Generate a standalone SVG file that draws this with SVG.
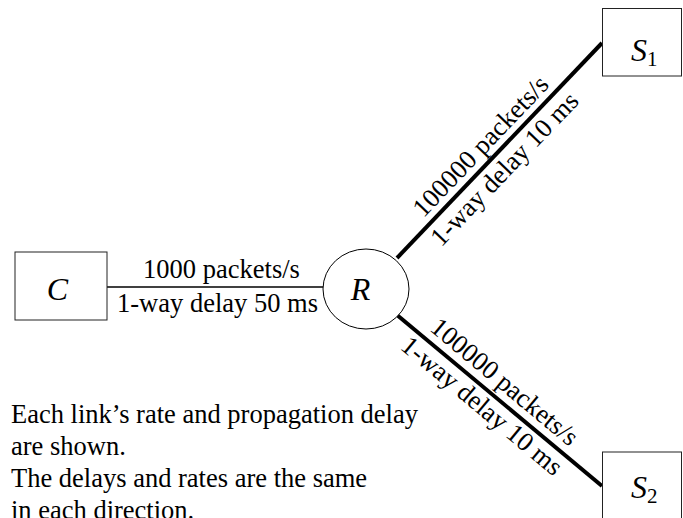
<svg xmlns="http://www.w3.org/2000/svg" width="683" height="518" viewBox="0 0 683 518">
<style>
  text { font-family: "Liberation Serif", "Times New Roman", serif; fill: #000; }
  .lbl { font-size: 26.5px; }
  .node { font-size: 32px; font-style: italic; }
  .sub { font-size: 21px; font-style: normal; }
  .box { fill: #fff; stroke: #222; stroke-width: 1; }
  .thin { stroke: #000; stroke-width: 1.6; fill: none; }
  .thick { stroke: #000; stroke-width: 4; fill: none; }
</style>
<rect width="683" height="518" fill="#fff"/>
<g id="connectors">
  <line class="thin" x1="107" y1="287" x2="323" y2="287"/>
  <line class="thick" x1="397" y1="258" x2="602" y2="43"/>
  <line class="thick" x1="397" y1="315" x2="602" y2="486"/>
</g>
<g id="link-labels">
  <text class="lbl" x="221.5" y="278" text-anchor="middle">1000 packets/s</text>
  <text class="lbl" x="217.5" y="312" text-anchor="middle">1-way delay 50 ms</text>
  <g transform="translate(499.5,150.5) rotate(-46.36)">
    <text class="lbl" x="-10" y="-8" text-anchor="middle">100000 packets/s</text>
    <text class="lbl" x="-10" y="25" text-anchor="middle">1-way delay 10 ms</text>
  </g>
  <g transform="translate(499.5,400.5) rotate(39.83)">
    <text class="lbl" x="-8" y="-9" text-anchor="middle">100000 packets/s</text>
    <text class="lbl" x="-10" y="24" text-anchor="middle">1-way delay 10 ms</text>
  </g>
</g>
<g id="node-C">
  <rect class="box" x="15" y="252" width="92" height="68"/>
  <text class="node" x="57.5" y="300" text-anchor="middle">C</text>
</g>
<g id="node-R">
  <ellipse cx="366" cy="289" rx="43" ry="40" fill="#fff" stroke="#000" stroke-width="1"/>
  <text class="node" x="360.5" y="300" text-anchor="middle">R</text>
</g>
<g id="node-S1">
  <rect class="box" x="602.5" y="8.5" width="79" height="67.5"/>
  <text class="node" x="631" y="61">S<tspan class="sub" y="66">1</tspan></text>
</g>
<g id="node-S2">
  <rect class="box" x="602.5" y="452" width="79" height="70"/>
  <text class="node" x="631" y="498">S<tspan class="sub" y="503">2</tspan></text>
</g>
<g id="note">
  <text class="lbl" x="11" y="423">Each link’s rate and propagation delay</text>
  <text class="lbl" x="11" y="455">are shown.</text>
  <text class="lbl" x="11" y="487">The delays and rates are the same</text>
  <text class="lbl" x="11" y="519">in each direction.</text>
</g>
</svg>
